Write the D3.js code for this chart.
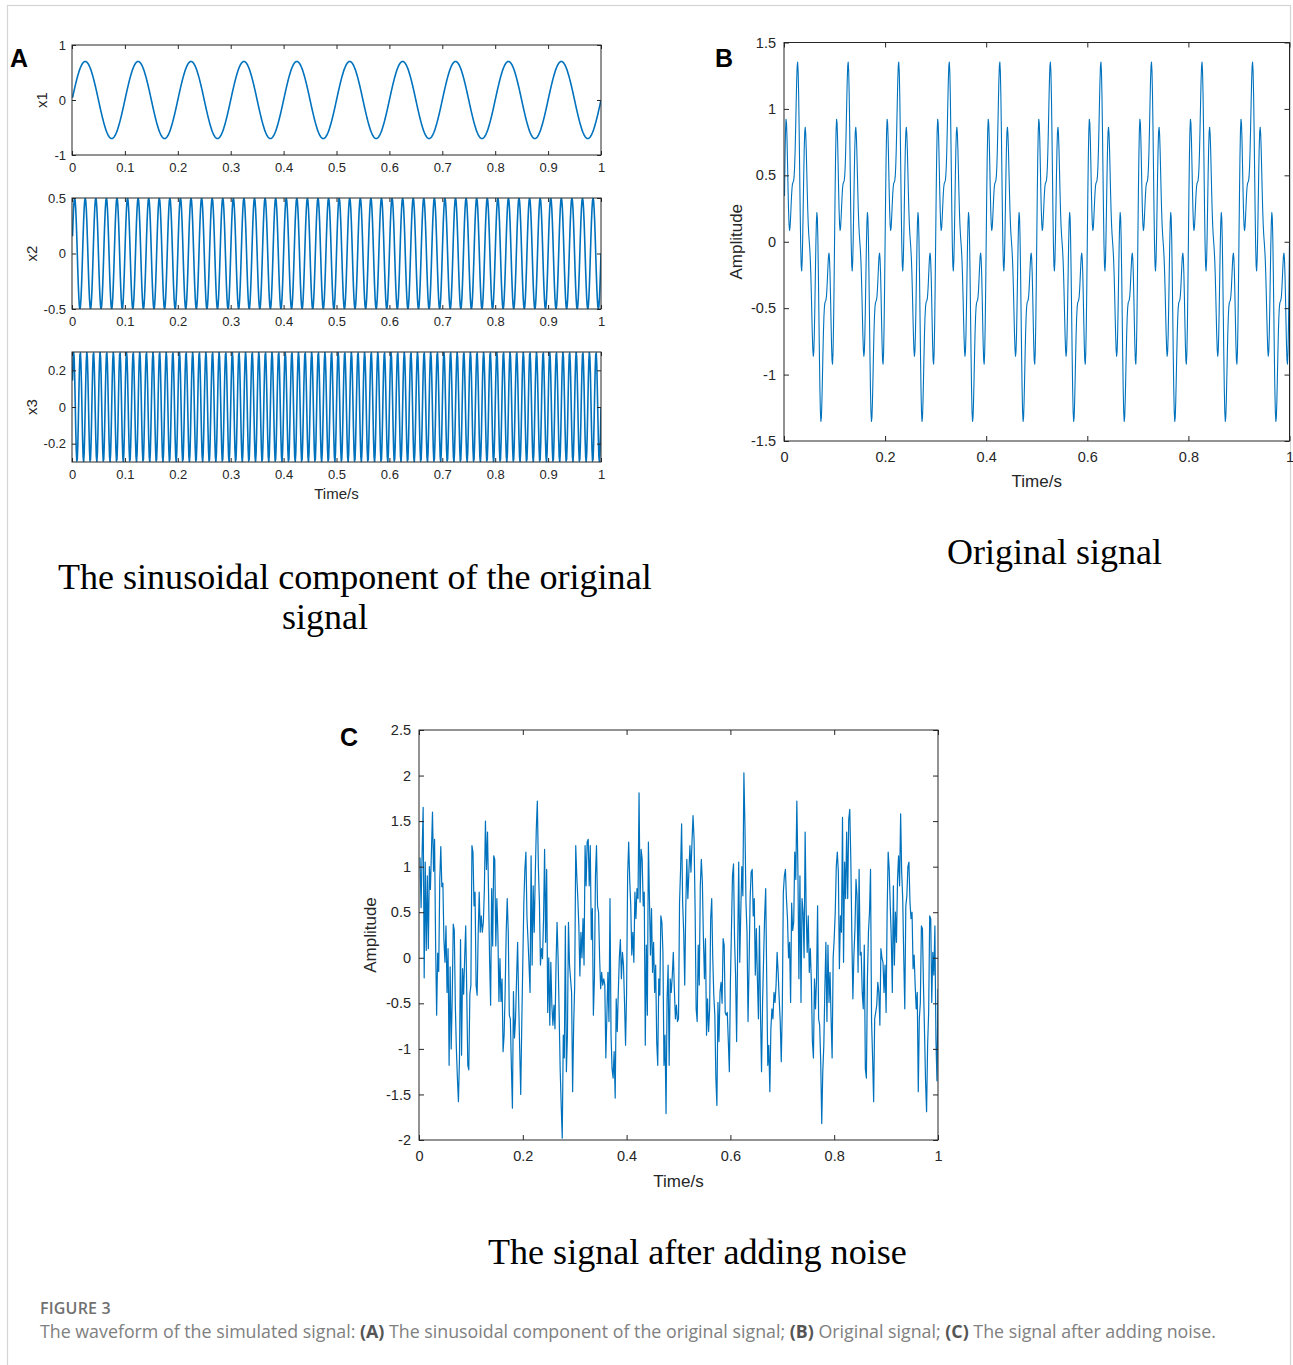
<!DOCTYPE html>
<html><head><meta charset="utf-8">
<script src="https://cdn.jsdelivr.net/npm/d3@7/dist/d3.min.js"></script>
<style>body{margin:0;background:#fff}svg{display:block}</style>
</head><body>
<svg id="fig" width="1293" height="1365"></svg>
<script>
// ---------------- data ----------------
const sampleRate = 1000;      // samples per second
const sampleCount = 1000;     // samples in 1 s, first one at t = 1/sampleRate

// one repeating cycle of each component (samples at 1 ms)
const x1Period = [0,0.044,0.088,0.131,0.174,0.216,0.258,0.298,0.337,0.375,0.411,0.446,0.479,0.510,0.539,0.566,0.591,0.613,0.633,0.651,0.666,0.678,0.688,0.694,0.699,0.700,0.699,0.694,0.688,0.678,0.666,0.651,0.633,0.613,0.591,0.566,0.539,0.510,0.479,0.446,0.411,0.375,0.337,0.298,0.258,0.216,0.174,0.131,0.088,0.044,0,-0.044,-0.088,-0.131,-0.174,-0.216,-0.258,-0.298,-0.337,-0.375,-0.411,-0.446,-0.479,-0.510,-0.539,-0.566,-0.591,-0.613,-0.633,-0.651,-0.666,-0.678,-0.688,-0.694,-0.699,-0.700,-0.699,-0.694,-0.688,-0.678,-0.666,-0.651,-0.633,-0.613,-0.591,-0.566,-0.539,-0.510,-0.479,-0.446,-0.411,-0.375,-0.337,-0.298,-0.258,-0.216,-0.174,-0.131,-0.088,-0.044];
const x2Period = [0,0.155,0.294,0.405,0.476,0.5,0.476,0.405,0.294,0.155,0,-0.155,-0.294,-0.405,-0.476,-0.5,-0.476,-0.405,-0.294,-0.155];
const x3Period = [0,0.145,0.253,0.299,0.271,0.176,0.038,-0.110,-0.231,-0.295,-0.285,-0.205,-0.075,0.075,0.205,0.285,0.295,0.231,0.110,-0.038,-0.176,-0.271,-0.299,-0.253,-0.145];
const originalPeriod = [0,0.344,0.635,0.835,0.921,0.892,0.772,0.593,0.400,0.235,0.126,0.086,0.110,0.180,0.268,0.351,0.410,0.439,0.449,0.458,0.490,0.562,0.683,0.846,1.030,1.200,1.320,1.352,1.281,1.104,0.842,0.534,0.229,-0.023,-0.180,-0.219,-0.142,0.030,0.260,0.496,0.696,0.825,0.862,0.813,0.696,0.540,0.379,0.237,0.129,0.054,0,-0.054,-0.129,-0.237,-0.379,-0.540,-0.696,-0.813,-0.862,-0.825,-0.696,-0.496,-0.260,-0.030,0.142,0.219,0.180,0.023,-0.229,-0.534,-0.842,-1.104,-1.281,-1.352,-1.320,-1.200,-1.030,-0.846,-0.683,-0.562,-0.490,-0.458,-0.449,-0.439,-0.410,-0.351,-0.268,-0.180,-0.110,-0.086,-0.126,-0.235,-0.400,-0.593,-0.772,-0.892,-0.921,-0.835,-0.635,-0.344];

// noisy signal, read every 2 ms (t = 0.002 ... 1.000)
const noisyStep = 0.002;
const noisySignal = [
 1.10,0.55,1.15,1.65,-0.22,1.05,0.08,0.90,0.10,1.00,0.75,1.18,1.60,0.95,1.30,0.15,-0.63,0.05,-0.15,0.85,1.22,0.78,0.82,0.20,-0.05,0.35,-0.38,0.10,-1.18,-0.10,-1.00,-0.45,0.37,0.30,-0.52,-1.00,-1.32,-1.58,-1.10,0.20,-1.07,-0.12,-0.40,0.00,0.35,-0.38,-1.18,-1.23,-0.40,-0.30,
 1.23,1.16,0.57,0.72,-0.30,-0.41,0.25,0.72,0.28,0.46,0.28,0.39,0.76,1.50,0.97,1.38,0.72,-0.01,-0.52,0.76,0.13,1.12,1.08,0.13,0.65,0.28,-0.48,-0.01,-0.48,-0.23,-1.03,-0.85,-0.37,0.28,0.65,0.28,-0.63,-0.67,-1.20,-1.65,-0.37,-0.88,-0.67,-0.23,0.17,-0.45,-1.00,-1.50,-0.74,-0.05,
 0.60,0.97,1.16,0.45,0.20,-0.08,-0.38,1.12,-0.08,0.79,0.28,0.90,1.41,1.72,1.00,0.61,-0.08,0.10,-0.01,0.43,1.19,0.17,0.97,-0.60,0.00,-0.74,-0.05,-0.52,-0.74,-0.52,-0.78,-0.08,0.39,0.00,-0.60,-1.22,-1.62,-1.98,-0.85,-1.10,0.35,-1.25,-0.85,0.39,-0.08,-0.23,-0.38,-1.47,-0.74,-0.30,
 1.23,0.90,0.65,0.35,-0.20,0.28,0.00,0.43,-0.08,1.23,0.79,1.27,1.30,0.79,1.23,0.20,0.54,-0.63,-0.23,0.90,1.23,0.57,0.50,0.00,-0.34,-0.16,-0.30,-0.23,-0.30,-1.10,-0.63,-0.16,-0.70,0.65,-0.85,-1.22,-1.32,-1.03,-1.54,-0.45,-0.81,-0.38,0.00,0.20,-0.23,0.06,-0.08,-0.49,-0.96,-0.38,
 0.90,1.27,0.86,0.57,0.03,0.28,-0.05,0.72,0.43,0.76,0.65,1.81,0.61,1.19,1.08,0.57,0.72,-0.96,0.14,-0.63,1.27,0.65,0.03,0.54,-0.16,0.17,-0.38,-0.08,-0.92,-1.18,-0.23,-0.41,0.46,0.39,0.06,-1.18,-0.85,-1.71,-0.45,-0.08,-1.18,-0.23,-0.38,-0.20,0.06,-0.34,-0.67,-0.52,-0.70,-0.67,
 0.60,0.97,1.47,0.60,0.28,-0.30,0.54,1.08,0.65,0.94,1.23,0.94,1.27,1.56,1.30,0.54,-0.56,-0.70,0.14,-0.30,0.79,1.08,0.83,0.21,-0.23,0.21,-0.85,-0.45,-0.81,-0.56,0.43,0.65,0.00,-0.41,-0.63,-1.32,-1.62,-0.49,-0.92,-0.38,-0.27,-0.50,0.21,0.14,-0.60,-0.63,-0.60,-0.92,-1.25,-0.27,
 0.30,0.90,1.03,0.20,-0.20,-0.92,0.10,1.05,-0.05,0.50,1.00,0.68,2.03,1.45,0.61,0.28,-0.70,-0.08,0.65,0.94,0.97,0.46,0.65,-0.19,0.32,-0.23,-0.67,0.35,-0.63,-1.25,-0.49,0.00,0.46,0.76,-0.23,-1.18,-0.96,-1.47,-0.78,-0.56,-0.67,-0.38,-0.49,-0.30,0.06,-0.16,-0.45,-0.70,-1.14,-0.56,
 0.72,0.90,0.97,0.65,0.43,0.00,0.17,-0.49,0.60,0.30,0.39,1.16,0.86,1.72,1.00,-0.23,0.90,-0.49,0.65,0.50,0.00,1.38,0.50,0.06,0.46,-0.16,0.10,-0.27,-0.92,-1.10,-0.23,-0.56,-0.23,0.57,-0.67,-0.74,-1.14,-1.82,-1.25,-0.96,-0.34,0.17,-0.70,0.14,-0.49,-0.16,-0.67,-1.10,0.00,0.21,
 0.50,1.00,1.16,0.94,-0.12,0.46,0.28,1.54,-0.05,1.05,0.65,1.38,0.65,1.52,1.63,1.08,0.24,-0.45,0.03,0.32,0.86,0.68,-0.16,0.97,0.03,0.06,-0.38,-0.56,0.14,-1.22,-1.32,-0.23,0.28,0.50,0.97,-0.70,-1.10,-1.58,-0.67,-0.60,-0.52,-0.27,-0.38,-0.74,0.10,0.00,-0.05,-0.38,-0.08,-0.60,
 0.50,1.16,0.97,0.57,0.21,-0.38,0.79,-0.08,0.50,0.17,0.86,1.12,0.79,1.58,0.94,0.65,0.00,-0.56,0.57,0.68,1.00,1.05,0.61,0.43,0.50,-0.12,0.03,-0.30,-0.56,-0.38,-1.47,-0.67,-0.49,0.35,0.32,-0.30,-0.81,-1.35,-1.69,-0.96,-0.60,0.46,0.43,-0.49,0.06,-0.19,0.35,-0.89,-1.35,-0.34
];

const timeTicksA = [0,0.1,0.2,0.3,0.4,0.5,0.6,0.7,0.8,0.9,1];
const timeTicksBC = [0,0.2,0.4,0.6,0.8,1];
const x1Ticks = [-1,0,1];
const x2Ticks = [-0.5,0,0.5];
const x3Ticks = [-0.2,0,0.2];
const ampTicksB = [-1.5,-1,-0.5,0,0.5,1,1.5];
const ampTicksC = [-2,-1.5,-1,-0.5,0,0.5,1,1.5,2,2.5];

const titles = {
  a1: "The sinusoidal component of the original",
  a2: "signal",
  b: "Original signal",
  c: "The signal after adding noise"
};
const figureLabel = "FIGURE 3";
const captionParts = [
  {t:"The waveform of the simulated signal: ", b:false},
  {t:"(A)", b:true},
  {t:" The sinusoidal component of the original signal; ", b:false},
  {t:"(B)", b:true},
  {t:" Original signal; ", b:false},
  {t:"(C)", b:true},
  {t:" The signal after adding noise.", b:false}
];

// ---------------- build series ----------------
const ks = d3.range(1, sampleCount + 1);
const tile = p => ks.map(k => ({t: k / sampleRate, v: p[k % p.length]}));
const x1Series = tile(x1Period);
const x2Series = tile(x2Period);
const x3Series = tile(x3Period);
const originalSeries = tile(originalPeriod);
const noisySeries = noisySignal.map((v, i) => ({t: (i + 1) * noisyStep, v}));

// ---------------- drawing ----------------
const svg = d3.select("#fig");
svg.append("rect").attr("width",1293).attr("height",1365).attr("fill","#fff");
svg.append("rect").attr("x",7.5).attr("y",5.5).attr("width",1283).attr("height",1380)
  .attr("fill","none").attr("stroke","#d4d4d4").attr("stroke-width",1.2);

const AX = "#262626", LINE = "#0072BD";
const SANS = "'Liberation Sans', Arial, sans-serif";
const SERIF = "'Liberation Serif', 'Times New Roman', serif";
let clipId = 0;

function panel(c) {
  const x = d3.scaleLinear().domain([0,1]).range([c.left, c.right]);
  const y = d3.scaleLinear().domain(c.yDomain).range([c.bottom, c.top]);
  const g = svg.append("g");
  const id = "clip" + (clipId++);
  g.append("clipPath").attr("id", id).append("rect")
    .attr("x", c.left).attr("y", c.top).attr("width", c.right - c.left).attr("height", c.bottom - c.top);
  g.append("path").datum(c.series)
    .attr("clip-path", `url(#${id})`)
    .attr("fill","none").attr("stroke", LINE).attr("stroke-width", c.lw).attr("stroke-linejoin","round")
    .attr("d", d3.line().x(d => x(d.t)).y(d => y(d.v)));
  const fmt = d => String(d);
  const styleAxis = (sel) => {
    sel.select(".domain").remove();
    sel.selectAll("line").attr("stroke", AX).attr("stroke-width", 1);
    sel.selectAll("text").attr("fill", AX).attr("font-family", SANS).attr("font-size", c.fs);
  };
  g.append("g").attr("transform",`translate(0,${c.bottom})`)
    .call(d3.axisBottom(x).tickValues(c.xTicks).tickSize(-c.tl).tickPadding(c.padX).tickFormat(fmt)).call(styleAxis);
  g.append("g").attr("transform",`translate(0,${c.top})`)
    .call(d3.axisTop(x).tickValues(c.xTicks).tickSize(-c.tl).tickFormat("")).call(styleAxis);
  g.append("g").attr("transform",`translate(${c.left},0)`)
    .call(d3.axisLeft(y).tickValues(c.yTicks).tickSize(-c.tl).tickPadding(c.padY).tickFormat(fmt)).call(styleAxis);
  g.append("g").attr("transform",`translate(${c.right},0)`)
    .call(d3.axisRight(y).tickValues(c.yTicks).tickSize(-c.tl).tickFormat("")).call(styleAxis);
  g.append("rect").attr("x", c.left).attr("y", c.top).attr("width", c.right - c.left).attr("height", c.bottom - c.top)
    .attr("fill","none").attr("stroke", AX).attr("stroke-width", 1);
  if (c.ylabel) {
    g.append("text").attr("transform", `translate(${c.ylabelX},${(c.top + c.bottom) / 2}) rotate(-90)`)
      .attr("text-anchor","middle").attr("fill", AX).attr("font-family", SANS).attr("font-size", c.lfs).text(c.ylabel);
  }
  if (c.xlabel) {
    g.append("text").attr("x", (c.left + c.right) / 2).attr("y", c.xlabelY)
      .attr("text-anchor","middle").attr("fill", AX).attr("font-family", SANS).attr("font-size", c.lfs).text(c.xlabel);
  }
}

// Panel A
const aCommon = {left:72, right:601, xTicks: timeTicksA, tl:4, fs:13, lfs:15, padX:8, padY:6, lw:1.6};
panel({...aCommon, top:45, bottom:155, yDomain:[-1,1], yTicks:x1Ticks, series:x1Series, ylabel:"x1", ylabelX:47});
panel({...aCommon, top:198, bottom:309, yDomain:[-0.5,0.5], yTicks:x2Ticks, series:x2Series, ylabel:"x2", ylabelX:37});
panel({...aCommon, top:352, bottom:462, yDomain:[-0.3,0.3], yTicks:x3Ticks, series:x3Series, ylabel:"x3", ylabelX:37, xlabel:"Time/s", xlabelY:499});

// Panel B
panel({left:784, right:1289.5, top:42.5, bottom:441, yDomain:[-1.5,1.5], yTicks:ampTicksB, xTicks:timeTicksBC,
  tl:5, fs:14.5, lfs:17, padX:11, padY:8, lw:1.1, series:originalSeries, ylabel:"Amplitude", ylabelX:742, xlabel:"Time/s", xlabelY:487});

// Panel C
panel({left:419, right:938, top:730, bottom:1140, yDomain:[-2,2.5], yTicks:ampTicksC, xTicks:timeTicksBC,
  tl:5, fs:14.5, lfs:17, padX:11, padY:8, lw:1.2, series:noisySeries, ylabel:"Amplitude", ylabelX:376, xlabel:"Time/s", xlabelY:1187});

// panel letters
[["A",10,67],["B",715,67],["C",340,746]].forEach(([s,x,y]) => {
  svg.append("text").attr("x",x).attr("y",y).attr("font-family",SANS).attr("font-weight","bold")
    .attr("font-size",25).attr("fill","#000").text(s);
});

// serif titles, sized to the reference line widths
function title(str, x, y, w) {
  const t = svg.append("text").attr("x", x).attr("y", y).attr("font-family", SERIF).attr("font-size", 34).attr("fill","#000").text(str);
  const m = t.node().getComputedTextLength();
  t.attr("font-size", 34 * w / m);
  return t;
}
title(titles.a1, 58, 589, 594);
title(titles.a2, 282, 629, 86);
title(titles.b, 947, 564, 215);
title(titles.c, 488, 1264, 419);

// caption
svg.append("text").attr("x",40).attr("y",1314).attr("font-family","'Open Sans', sans-serif")
  .attr("font-weight",600).attr("font-size",16).attr("fill","#707070").attr("letter-spacing",0.2).text(figureLabel);
const cap = svg.append("text").attr("x",40).attr("y",1338).attr("font-family","'Open Sans', sans-serif")
  .attr("font-size",16).attr("fill","#7a7a7a");
captionParts.forEach(p => cap.append("tspan").attr("font-weight", p.b ? 700 : 400).attr("fill", p.b ? "#555" : "#808080").text(p.t));
const cw = cap.node().getComputedTextLength();
cap.attr("font-size", 16 * 1177 / cw);
</script>
</body></html>
